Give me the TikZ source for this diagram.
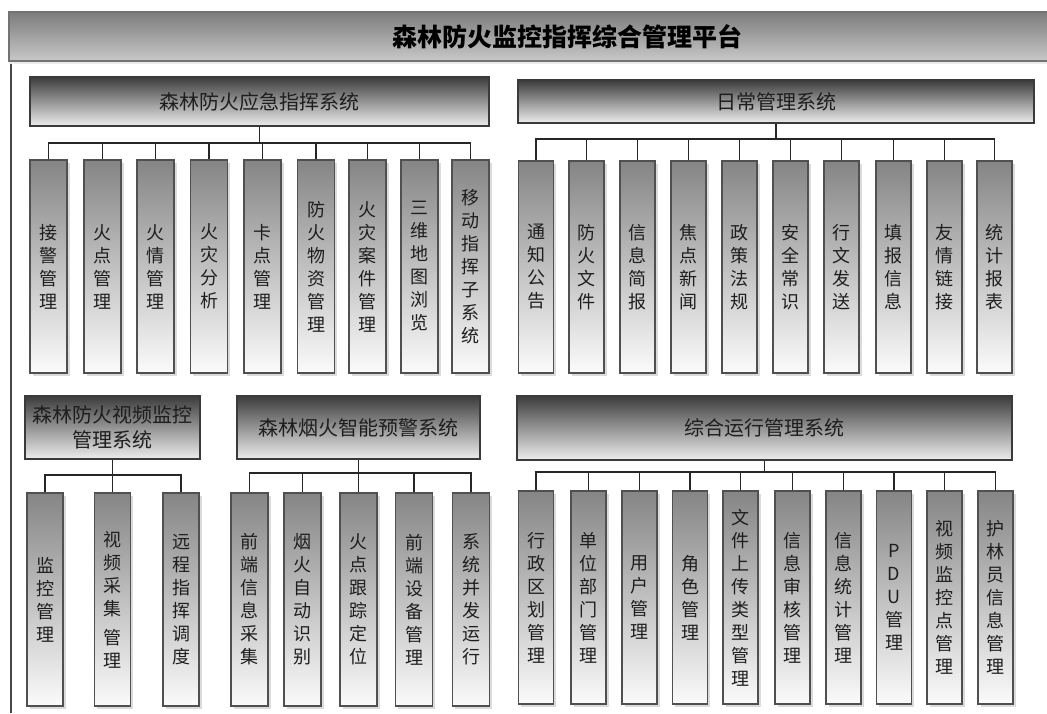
\documentclass[tikz,border=0pt]{standalone}
\usepackage{fontspec}
\setmainfont{Noto Sans CJK SC}
\usetikzlibrary{shadows}
\definecolor{hdrtop}{HTML}{3C3C3C}
\definecolor{hdrbot}{HTML}{EDEDED}
\definecolor{leaftop}{HTML}{858585}
\definecolor{leafbot}{HTML}{FBFBFB}
\definecolor{titletop}{HTML}{7C7C7C}
\definecolor{titlebot}{HTML}{C8C8C8}
\definecolor{edgec}{HTML}{3A3A3A}
\definecolor{leafedge}{HTML}{505050}
\definecolor{ink}{HTML}{1E1E1E}
\begin{document}
\begin{tikzpicture}[x=1pt,y=-1pt,
  hdr/.style={draw=edgec, line width=1.2pt, top color=hdrtop, bottom color=hdrbot,
    inner sep=0pt, font=\fontsize{20}{24.5}\selectfont, text=ink, align=center},
  leaf/.style={draw=leafedge, line width=1.1pt, top color=leaftop, bottom color=leafbot,
    inner sep=0pt, minimum height=213pt, font=\fontsize{18}{23}\selectfont, text=ink, align=center,
    drop shadow={shadow xshift=2.5pt, shadow yshift=-2.5pt, fill=black!14, opacity=1}},
  conn/.style={draw=black!85, line width=1.2pt}]
\useasboundingbox (0,0) rectangle (1047,713);

% title bar
\node[draw=black!55, line width=1.5pt, top color=titletop, bottom color=titlebot,
  minimum width=1042pt, minimum height=49pt, inner sep=0pt,
  drop shadow={shadow xshift=0pt, shadow yshift=-2.5pt, fill=black!8, opacity=1}] (title) at (530,36.5) {};
\node[font=\fontsize{25}{29}\selectfont\bfseries, text=black] (ttl) at (567,37) {森林防火监控指挥综合管理平台};

% left vertical line
\coordinate (vl1) at (11,64);
\coordinate (vl2) at (11,713);
\draw[line width=1.5pt, draw=black!72] (vl1) -- (vl2);

% ---------- section 1 ----------
\node[hdr, minimum width=459pt, minimum height=49pt] (h1) at (259.5,101.5) {森林防火应急指挥系统};
\node[leaf, minimum width=37pt] (a1) at (48.5,266.5) {接\\警\\管\\理};
\node[leaf, minimum width=37pt] (a2) at (102.5,266.5) {火\\点\\管\\理};
\node[leaf, minimum width=37pt] (a3) at (155.5,266.5) {火\\情\\管\\理};
\node[leaf, minimum width=37pt] (a4) at (209,266.5) {火\\灾\\分\\析};
\node[leaf, minimum width=37pt] (a5) at (262.5,266.5) {卡\\点\\管\\理};
\node[leaf, minimum width=37pt] (a6) at (316,266.5) {防\\火\\物\\资\\管\\理};
\node[leaf, minimum width=37pt] (a7) at (367.5,266.5) {火\\灾\\案\\件\\管\\理};
\node[leaf, minimum width=37pt] (a8) at (419.5,266.5) {三\\维\\地\\图\\浏\\览};
\node[leaf, minimum width=37pt] (a9) at (470.5,266.5) {移\\动\\指\\挥\\子\\系\\统};
\coordinate (b1) at (259.5,143);
\draw[conn] (h1.south) -- (b1);
\foreach \i in {1,...,9} \draw[conn] (a\i.north) |- (b1);

% ---------- section 2 ----------
\node[hdr, minimum width=516pt, minimum height=43pt] (h2) at (776,101.5) {日常管理系统};
\node[leaf, minimum width=35pt, minimum height=212pt] (c1) at (536,267) {通\\知\\公\\告};
\node[leaf, minimum width=35pt, minimum height=212pt] (c2) at (586.5,267) {防\\火\\文\\件};
\node[leaf, minimum width=35pt, minimum height=212pt] (c3) at (637.5,267) {信\\息\\简\\报};
\node[leaf, minimum width=35pt, minimum height=212pt] (c4) at (688.5,267) {焦\\点\\新\\闻};
\node[leaf, minimum width=35pt, minimum height=212pt] (c5) at (739.5,267) {政\\策\\法\\规};
\node[leaf, minimum width=35pt, minimum height=212pt] (c6) at (790.5,267) {安\\全\\常\\识};
\node[leaf, minimum width=35pt, minimum height=212pt] (c7) at (841.5,267) {行\\文\\发\\送};
\node[leaf, minimum width=35pt, minimum height=212pt] (c8) at (893.5,267) {填\\报\\信\\息};
\node[leaf, minimum width=35pt, minimum height=212pt] (c9) at (944.5,267) {友\\情\\链\\接};
\node[leaf, minimum width=35pt, minimum height=212pt] (c10) at (994.5,267) {统\\计\\报\\表};
\coordinate (b2) at (776,139);
\draw[conn] (h2.south) -- (b2);
\foreach \i in {1,...,10} \draw[conn] (c\i.north) |- (b2);

% ---------- section 3 ----------
\node[hdr, minimum width=175pt, minimum height=63pt] (h3) at (112.5,427.5) {森林防火视频监控\\管理系统};
\node[leaf, minimum width=36pt] (d1) at (45,599.5) {监\\控\\管\\理};
\node[leaf, minimum width=36pt] (d2) at (112.5,599.5) {视\\频\\采\\集\\[6pt]管\\理};
\node[leaf, minimum width=36pt] (d3) at (181,599.5) {远\\程\\指\\挥\\调\\度};
\coordinate (b3) at (112.5,475);
\draw[conn] (h3.south) -- (b3);
\foreach \i in {1,...,3} \draw[conn] (d\i.north) |- (b3);

% ---------- section 4 ----------
\node[hdr, minimum width=243pt, minimum height=63pt] (h4) at (358.5,427.5) {森林烟火智能预警系统};
\node[leaf, minimum width=37pt] (e1) at (249.5,599.5) {前\\端\\信\\息\\采\\集};
\node[leaf, minimum width=37pt] (e2) at (302.5,599.5) {烟\\火\\自\\动\\识\\别};
\node[leaf, minimum width=37pt] (e3) at (358.5,599.5) {火\\点\\跟\\踪\\定\\位};
\node[leaf, minimum width=37pt] (e4) at (414,599.5) {前\\端\\设\\备\\管\\理};
\node[leaf, minimum width=37pt] (e5) at (471,599.5) {系\\统\\并\\发\\运\\行};
\coordinate (b4) at (358.5,473);
\draw[conn] (h4.south) -- (b4);
\foreach \i in {1,...,5} \draw[conn] (e\i.north) |- (b4);

% ---------- section 5 ----------
\node[hdr, minimum width=495pt, minimum height=64pt] (h5) at (764.5,428) {综合运行管理系统};
\node[leaf, minimum width=35pt] (f1) at (536,597.5) {行\\政\\区\\划\\管\\理};
\node[leaf, minimum width=35pt] (f2) at (588.5,597.5) {单\\位\\部\\门\\管\\理};
\node[leaf, minimum width=35pt] (f3) at (639.5,597.5) {用\\户\\管\\理};
\node[leaf, minimum width=35pt] (f4) at (690,597.5) {角\\色\\管\\理};
\node[leaf, minimum width=35pt] (f5) at (740.5,597.5) {文\\件\\上\\传\\类\\型\\管\\理};
\node[leaf, minimum width=35pt] (f6) at (792.5,597.5) {信\\息\\审\\核\\管\\理};
\node[leaf, minimum width=35pt] (f7) at (843.5,597.5) {信\\息\\统\\计\\管\\理};
\node[leaf, minimum width=35pt] (f8) at (894,597.5) {P\\D\\U\\管\\理};
\node[leaf, minimum width=35pt] (f9) at (944.5,597.5) {视\\频\\监\\控\\点\\管\\理};
\node[leaf, minimum width=35pt] (f10) at (995.5,597.5) {护\\林\\员\\信\\息\\管\\理};
\coordinate (b5) at (764.5,472);
\draw[conn] (h5.south) -- (b5);
\foreach \i in {1,...,10} \draw[conn] (f\i.north) |- (b5);
\end{tikzpicture}
\end{document}
